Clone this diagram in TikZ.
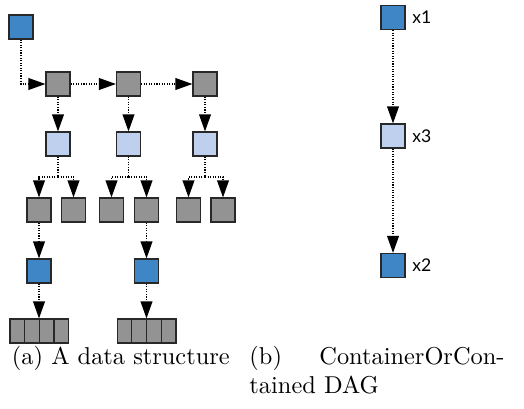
\documentclass[tikz,border=0pt]{standalone}
\usepackage{fontspec}
\newfontfamily\labfont{Lato}
\usetikzlibrary{arrows.meta}
\definecolor{dblue}{RGB}{63,134,198}
\definecolor{lblue}{RGB}{191,208,238}
\definecolor{sgray}{RGB}{147,147,147}
\definecolor{bord}{RGB}{40,40,40}
\tikzset{
  sq/.style={draw=bord,line width=0.5pt,minimum width=9.84pt,minimum height=9.84pt,inner sep=0pt},
  bluesq/.style={sq,fill=dblue},
  lbluesq/.style={sq,fill=lblue},
  graysq/.style={sq,fill=sgray},
  cell/.style={draw=bord,line width=0.5pt,fill=sgray,minimum width=6pt,minimum height=9.84pt,inner sep=0pt},
  arr/.style={line width=0.45pt,dash pattern=on 0.45pt off 0.6pt,-{Triangle[length=7pt,width=5pt,line width=0pt]}},
  conn/.style={line width=0.45pt,dash pattern=on 0.45pt off 0.6pt},
  lab/.style={font=\labfont\fontsize{7.2pt}{8pt}\selectfont,anchor=west,inner sep=0pt},
  captext/.style={font=\fontsize{10pt}{12pt}\selectfont,inner sep=0pt}
}
\begin{document}
\begin{tikzpicture}[x=0.41pt,y=-0.41pt]
\useasboundingbox (0,0) rectangle (524,408);
% (a) data structure
\node[bluesq] (b0) at (21,27) {};
\node[graysq] (g1) at (58,84) {};
\node[graysq] (g2) at (128.5,84) {};
\node[graysq] (g3) at (205,84) {};
\node[lbluesq] (l1) at (58,144) {};
\node[lbluesq] (l2) at (128.5,144) {};
\node[lbluesq] (l3) at (205,144) {};
\node[graysq] (c11) at (39,210) {};
\node[graysq] (c12) at (73.5,210) {};
\node[graysq] (c21) at (111.5,210) {};
\node[graysq] (c22) at (146.5,210) {};
\node[graysq] (c31) at (188.5,210) {};
\node[graysq] (c32) at (223,210) {};
\node[bluesq] (bl1) at (39,271) {};
\node[bluesq] (bl2) at (146.5,271) {};
\node[cell] (a11) at (17.3,331) {};
\node[cell] (a12) at (32,331) {};
\node[cell] (a13) at (46.7,331) {};
\node[cell] (a14) at (61.4,331) {};
\node[cell] (a21) at (124.5,331) {};
\node[cell] (a22) at (139.2,331) {};
\node[cell] (a23) at (153.9,331) {};
\node[cell] (a24) at (168.6,331) {};
\coordinate (j1) at (58,177);
\coordinate (j2) at (128.5,177);
\coordinate (j3) at (205,177);
\draw[arr] (b0.south) |- (g1.west);
\draw[arr] (g1) -- (g2);
\draw[arr] (g2) -- (g3);
\draw[arr] (g1) -- (l1);
\draw[arr] (g2) -- (l2);
\draw[arr] (g3) -- (l3);
\draw[conn] (l1.south) -- (j1);
\draw[conn] (l2.south) -- (j2);
\draw[conn] (l3.south) -- (j3);
\draw[arr] (j1) -| (c11.north);
\draw[arr] (j1) -| (c12.north);
\draw[arr] (j2) -| (c21.north);
\draw[arr] (j2) -| (c22.north);
\draw[arr] (j3) -| (c31.north);
\draw[arr] (j3) -| (c32.north);
\draw[arr] (c11) -- (bl1);
\draw[arr] (c22) -- (bl2);
\draw[arr] (bl1.south) -- (bl1.south |- a12.north east);
\draw[arr] (bl2.south) -- (bl2.south |- a22.north east);
% (b) DAG
\node[bluesq] (x1) at (393,17.5) {};
\node[lbluesq] (x3) at (393,136) {};
\node[bluesq] (x2) at (393,265.5) {};
\node[lab] (t1) at (412,17.5) {x1};
\node[lab] (t3) at (412,136) {x3};
\node[lab] (t2) at (412,265.5) {x2};
\draw[arr] (x1) -- (x3);
\draw[arr] (x3) -- (x2);
% captions
\node[captext,anchor=base west] (capa) at (11.5,364) {(a) A data structure};
\node[captext,anchor=base west] (capb) at (249,364) {(b)};
\node[captext,anchor=base east] (capb2) at (505,364) {ContainerOrCon-};
\node[captext,anchor=base west] (capb3) at (249,393) {tained DAG};
\end{tikzpicture}
\end{document}
